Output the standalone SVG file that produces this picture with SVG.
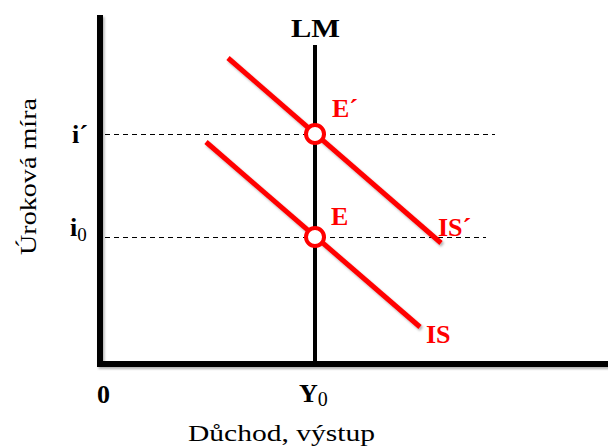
<svg xmlns="http://www.w3.org/2000/svg" width="608" height="448" viewBox="0 0 608 448">
<style>
.ax{stroke:#000;stroke-width:6;fill:none;stroke-linecap:square}
.lm{stroke:#000;stroke-width:4;fill:none}
.dash{stroke:#000;stroke-width:1.2;stroke-dasharray:5,4;fill:none}
.is{stroke:#ff0000;stroke-width:5;fill:none;filter:url(#sh)}
.pt{fill:#fff;stroke:#ff0000;stroke-width:4}
.lb{font-family:"Liberation Serif",serif;font-weight:bold;font-size:26px}
.red{fill:#ff0000}
.blk{fill:#000}
.tx{font-family:"Liberation Serif",serif;font-size:24px;fill:#000}
</style>
<defs>
<filter id="sh" x="-10%" y="-10%" width="120%" height="120%">
<feDropShadow dx="1.5" dy="2" stdDeviation="1.2" flood-color="#000" flood-opacity="0.3"/>
</filter>
</defs>
<rect width="608" height="448" fill="#fff"/>
<g id="axes">
<path class="ax" d="M100 18 V364 H608" style="filter:url(#sh)"/>
</g>
<g id="connectors">
<line class="dash" x1="105" y1="134.5" x2="495" y2="134.5"/>
<line class="dash" x1="105" y1="237.5" x2="486" y2="237.5"/>
<line id="LM" class="lm" x1="315" y1="45" x2="315" y2="364"/>
<line id="ISp" class="is" x1="228" y1="58" x2="441" y2="243"/>
<line id="IS" class="is" x1="206" y1="142" x2="420" y2="327"/>
</g>
<g id="Ep"><circle class="pt" cx="315" cy="134" r="9"/></g>
<g id="E"><circle class="pt" cx="315" cy="237" r="9"/></g>
<g id="labels">
<text class="lb blk" x="291" y="37" textLength="49" lengthAdjust="spacingAndGlyphs">LM</text>
<text class="lb red" x="332" y="117">E´</text>
<text class="lb red" x="331" y="225">E</text>
<text class="lb red" x="438" y="236">IS´</text>
<text class="lb red" x="426" y="343">IS</text>
<text class="lb blk" x="72" y="143">i´</text>
<text class="lb blk" x="70" y="236">i<tspan font-size="19" font-weight="normal" dy="5">0</tspan></text>
<text class="lb blk" x="97" y="403">0</text>
<text class="lb blk" x="299" y="402">Y<tspan font-size="20" font-weight="normal" dy="4">0</tspan></text>
<text class="tx" x="188" y="441" textLength="187" lengthAdjust="spacingAndGlyphs">Důchod, výstup</text>
<text class="tx" transform="translate(36,255) rotate(-90)" textLength="157" lengthAdjust="spacingAndGlyphs">Úroková míra</text>
</g>
</svg>
